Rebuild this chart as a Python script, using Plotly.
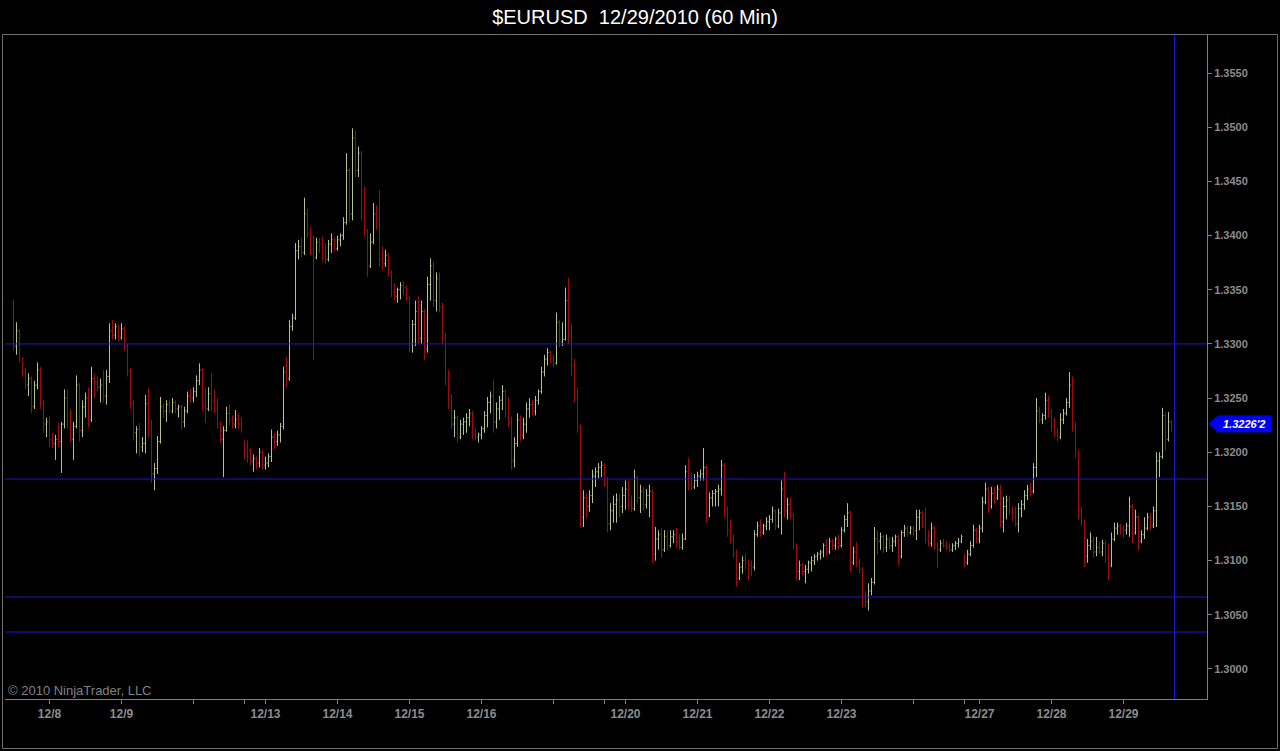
import plotly.graph_objects as go

# ---------------- data (hourly EURUSD bars) ----------------
open_ = [
1.3338, 1.3298, 1.3312, 1.3286, 1.3272, 1.3262, 1.3268, 1.3242, 1.3262, 1.3276,
1.3245, 1.3226, 1.3228, 1.3212, 1.3208, 1.3212, 1.3210, 1.3226, 1.3250, 1.3228,
1.3212, 1.3224, 1.3262, 1.3220, 1.3242, 1.3250, 1.3230, 1.3268, 1.3264, 1.3260,
1.3262, 1.3252, 1.3270, 1.3312, 1.3308, 1.3316, 1.3306, 1.3314, 1.3298, 1.3275,
1.3245, 1.3218, 1.3221, 1.3205, 1.3208, 1.3245, 1.3222, 1.3180, 1.3185, 1.3210,
1.3242, 1.3238, 1.3244, 1.3238, 1.3246, 1.3240, 1.3242, 1.3228, 1.3238, 1.3252,
1.3250, 1.3256, 1.3266, 1.3276, 1.3244, 1.3240, 1.3254, 1.3248, 1.3240, 1.3226,
1.3212, 1.3220, 1.3236, 1.3230, 1.3226, 1.3230, 1.3226, 1.3205, 1.3200, 1.3195,
1.3192, 1.3194, 1.3190, 1.3200, 1.3188, 1.3190, 1.3196, 1.3214, 1.3210, 1.3216,
1.3224, 1.3274, 1.3268, 1.3316, 1.3324, 1.3386, 1.3390, 1.3384, 1.3420, 1.3402,
1.3388, 1.3380, 1.3394, 1.3392, 1.3380, 1.3378, 1.3392, 1.3396, 1.3388, 1.3396,
1.3400, 1.3412, 1.3460, 1.3420, 1.3490, 1.3460, 1.3476, 1.3420, 1.3405, 1.3372,
1.3394, 1.3420, 1.3416, 1.3378, 1.3374, 1.3382, 1.3366, 1.3348, 1.3344, 1.3350,
1.3354, 1.3352, 1.3342, 1.3300, 1.3318, 1.3330, 1.3305, 1.3330, 1.3295, 1.3355,
1.3372, 1.3340, 1.3360, 1.3334, 1.3306, 1.3268, 1.3250, 1.3226, 1.3232, 1.3214,
1.3226, 1.3228, 1.3232, 1.3236, 1.3216, 1.3214, 1.3216, 1.3222, 1.3234, 1.3246,
1.3252, 1.3228, 1.3240, 1.3248, 1.3256, 1.3236, 1.3228, 1.3192, 1.3208, 1.3230,
1.3216, 1.3226, 1.3240, 1.3244, 1.3238, 1.3248, 1.3256, 1.3274, 1.3286, 1.3292,
1.3286, 1.3282, 1.3320, 1.3302, 1.3304, 1.3340, 1.3308, 1.3280, 1.3256, 1.3224,
1.3140, 1.3158, 1.3150, 1.3160, 1.3178, 1.3182, 1.3186, 1.3188, 1.3172, 1.3134,
1.3146, 1.3152, 1.3156, 1.3150, 1.3160, 1.3166, 1.3152, 1.3148, 1.3176, 1.3158,
1.3164, 1.3152, 1.3160, 1.3164, 1.3106, 1.3120, 1.3124, 1.3110, 1.3122, 1.3114,
1.3122, 1.3124, 1.3116, 1.3112, 1.3120, 1.3182, 1.3170, 1.3168, 1.3174, 1.3178,
1.3180, 1.3186, 1.3142, 1.3158, 1.3162, 1.3164, 1.3166, 1.3188, 1.3146, 1.3128,
1.3120, 1.3106, 1.3084, 1.3094, 1.3100, 1.3098, 1.3096, 1.3094, 1.3124, 1.3132,
1.3126, 1.3132, 1.3136, 1.3138, 1.3146, 1.3132, 1.3144, 1.3166, 1.3146, 1.3152,
1.3142, 1.3114, 1.3090, 1.3096, 1.3090, 1.3092, 1.3098, 1.3100, 1.3104, 1.3106,
1.3108, 1.3114, 1.3108, 1.3118, 1.3114, 1.3120, 1.3114, 1.3128, 1.3138, 1.3144,
1.3098, 1.3108, 1.3098, 1.3092, 1.3068, 1.3062, 1.3072, 1.3080, 1.3120, 1.3118,
1.3122, 1.3112, 1.3120, 1.3114, 1.3118, 1.3122, 1.3104, 1.3126, 1.3130, 1.3126,
1.3130, 1.3128, 1.3140, 1.3144, 1.3134, 1.3120, 1.3116, 1.3130, 1.3114, 1.3110,
1.3116, 1.3114, 1.3112, 1.3110, 1.3114, 1.3116, 1.3118, 1.3104, 1.3098, 1.3106,
1.3114, 1.3128, 1.3120, 1.3130, 1.3154, 1.3166, 1.3150, 1.3162, 1.3158, 1.3166,
1.3136, 1.3150, 1.3156, 1.3146, 1.3140, 1.3134, 1.3148, 1.3152, 1.3160, 1.3166,
1.3164, 1.3186, 1.3238, 1.3230, 1.3234, 1.3248, 1.3236, 1.3224, 1.3218, 1.3214,
1.3230, 1.3236, 1.3246, 1.3262, 1.3224, 1.3200, 1.3146, 1.3136, 1.3104, 1.3114,
1.3118, 1.3108, 1.3112, 1.3108, 1.3116, 1.3102, 1.3096, 1.3120, 1.3130, 1.3132,
1.3130, 1.3128, 1.3132, 1.3150, 1.3126, 1.3140, 1.3118, 1.3124, 1.3130, 1.3140,
1.3132, 1.3146, 1.3192, 1.3196, 1.3234, 1.3212, 1.3228,
]

high = [
1.3341, 1.3320, 1.3314, 1.3288, 1.3278, 1.3273, 1.3270, 1.3266, 1.3283, 1.3279,
1.3248, 1.3232, 1.3233, 1.3218, 1.3216, 1.3227, 1.3228, 1.3258, 1.3258, 1.3240,
1.3228, 1.3271, 1.3264, 1.3248, 1.3255, 1.3260, 1.3279, 1.3272, 1.3270, 1.3268,
1.3276, 1.3276, 1.3319, 1.3322, 1.3319, 1.3318, 1.3319, 1.3316, 1.3300, 1.3278,
1.3248, 1.3224, 1.3227, 1.3214, 1.3253, 1.3259, 1.3230, 1.3190, 1.3215, 1.3251,
1.3245, 1.3248, 1.3248, 1.3250, 1.3248, 1.3244, 1.3244, 1.3242, 1.3256, 1.3258,
1.3260, 1.3271, 1.3282, 1.3278, 1.3260, 1.3260, 1.3273, 1.3258, 1.3250, 1.3228,
1.3224, 1.3242, 1.3244, 1.3234, 1.3239, 1.3236, 1.3232, 1.3211, 1.3211, 1.3204,
1.3198, 1.3196, 1.3204, 1.3202, 1.3196, 1.3199, 1.3221, 1.3218, 1.3220, 1.3227,
1.3279, 1.3288, 1.3322, 1.3328, 1.3393, 1.3396, 1.3398, 1.3435, 1.3425, 1.3408,
1.3400, 1.3398, 1.3398, 1.3399, 1.3393, 1.3396, 1.3402, 1.3398, 1.3400, 1.3402,
1.3417, 1.3476, 1.3462, 1.3499, 1.3497, 1.3482, 1.3478, 1.3445, 1.3406, 1.3402,
1.3430, 1.3428, 1.3442, 1.3390, 1.3387, 1.3384, 1.3368, 1.3356, 1.3352, 1.3357,
1.3358, 1.3354, 1.3344, 1.3322, 1.3340, 1.3344, 1.3340, 1.3332, 1.3362, 1.3379,
1.3376, 1.3366, 1.3366, 1.3338, 1.3310, 1.3276, 1.3254, 1.3239, 1.3234, 1.3230,
1.3232, 1.3236, 1.3240, 1.3238, 1.3222, 1.3218, 1.3224, 1.3238, 1.3251, 1.3256,
1.3267, 1.3246, 1.3252, 1.3262, 1.3258, 1.3251, 1.3233, 1.3214, 1.3236, 1.3234,
1.3232, 1.3246, 1.3250, 1.3248, 1.3252, 1.3258, 1.3279, 1.3290, 1.3296, 1.3294,
1.3290, 1.3329, 1.3322, 1.3320, 1.3352, 1.3361, 1.3319, 1.3286, 1.3260, 1.3226,
1.3165, 1.3162, 1.3165, 1.3184, 1.3186, 1.3190, 1.3192, 1.3190, 1.3177, 1.3153,
1.3160, 1.3162, 1.3162, 1.3168, 1.3174, 1.3174, 1.3160, 1.3184, 1.3178, 1.3170,
1.3168, 1.3166, 1.3170, 1.3166, 1.3131, 1.3128, 1.3130, 1.3128, 1.3128, 1.3128,
1.3128, 1.3130, 1.3124, 1.3125, 1.3188, 1.3195, 1.3181, 1.3180, 1.3182, 1.3184,
1.3204, 1.3188, 1.3163, 1.3165, 1.3166, 1.3170, 1.3193, 1.3190, 1.3150, 1.3138,
1.3124, 1.3110, 1.3098, 1.3104, 1.3107, 1.3101, 1.3100, 1.3128, 1.3136, 1.3138,
1.3134, 1.3140, 1.3142, 1.3150, 1.3147, 1.3148, 1.3174, 1.3182, 1.3158, 1.3158,
1.3144, 1.3116, 1.3100, 1.3098, 1.3096, 1.3100, 1.3104, 1.3106, 1.3108, 1.3110,
1.3116, 1.3120, 1.3121, 1.3120, 1.3122, 1.3124, 1.3131, 1.3142, 1.3153, 1.3146,
1.3113, 1.3117, 1.3102, 1.3094, 1.3072, 1.3079, 1.3084, 1.3131, 1.3128, 1.3126,
1.3124, 1.3124, 1.3122, 1.3122, 1.3124, 1.3124, 1.3128, 1.3133, 1.3132, 1.3132,
1.3132, 1.3147, 1.3147, 1.3146, 1.3149, 1.3128, 1.3135, 1.3132, 1.3117, 1.3119,
1.3120, 1.3118, 1.3116, 1.3116, 1.3118, 1.3121, 1.3124, 1.3106, 1.3110, 1.3118,
1.3133, 1.3130, 1.3133, 1.3159, 1.3172, 1.3168, 1.3168, 1.3168, 1.3170, 1.3170,
1.3159, 1.3160, 1.3160, 1.3150, 1.3150, 1.3153, 1.3156, 1.3165, 1.3170, 1.3172,
1.3190, 1.3250, 1.3242, 1.3236, 1.3255, 1.3252, 1.3240, 1.3232, 1.3222, 1.3236,
1.3240, 1.3250, 1.3274, 1.3270, 1.3228, 1.3202, 1.3150, 1.3138, 1.3120, 1.3126,
1.3122, 1.3122, 1.3118, 1.3119, 1.3119, 1.3116, 1.3126, 1.3135, 1.3135, 1.3134,
1.3133, 1.3135, 1.3159, 1.3152, 1.3147, 1.3142, 1.3128, 1.3140, 1.3144, 1.3144,
1.3150, 1.3200, 1.3200, 1.3241, 1.3237, 1.3237, 1.3230,
]

low = [
1.3294, 1.3290, 1.3283, 1.3270, 1.3258, 1.3252, 1.3236, 1.3240, 1.3258, 1.3240,
1.3218, 1.3214, 1.3205, 1.3204, 1.3193, 1.3205, 1.3181, 1.3222, 1.3222, 1.3209,
1.3193, 1.3222, 1.3210, 1.3214, 1.3232, 1.3223, 1.3228, 1.3250, 1.3256, 1.3246,
1.3246, 1.3244, 1.3264, 1.3304, 1.3304, 1.3303, 1.3304, 1.3294, 1.3270, 1.3240,
1.3211, 1.3199, 1.3196, 1.3200, 1.3199, 1.3214, 1.3172, 1.3165, 1.3180, 1.3208,
1.3232, 1.3228, 1.3236, 1.3236, 1.3236, 1.3232, 1.3221, 1.3223, 1.3236, 1.3246,
1.3246, 1.3251, 1.3262, 1.3238, 1.3227, 1.3238, 1.3238, 1.3236, 1.3222, 1.3208,
1.3177, 1.3219, 1.3225, 1.3222, 1.3222, 1.3221, 1.3218, 1.3193, 1.3190, 1.3188,
1.3182, 1.3184, 1.3186, 1.3184, 1.3184, 1.3186, 1.3191, 1.3203, 1.3206, 1.3209,
1.3221, 1.3260, 1.3266, 1.3312, 1.3322, 1.3378, 1.3380, 1.3382, 1.3398, 1.3382,
1.3285, 1.3378, 1.3384, 1.3376, 1.3374, 1.3376, 1.3384, 1.3386, 1.3386, 1.3390,
1.3396, 1.3410, 1.3412, 1.3414, 1.3454, 1.3454, 1.3414, 1.3399, 1.3362, 1.3370,
1.3392, 1.3405, 1.3371, 1.3368, 1.3371, 1.3362, 1.3343, 1.3340, 1.3338, 1.3341,
1.3345, 1.3340, 1.3292, 1.3292, 1.3298, 1.3300, 1.3300, 1.3285, 1.3292, 1.3340,
1.3334, 1.3330, 1.3329, 1.3300, 1.3262, 1.3240, 1.3221, 1.3214, 1.3209, 1.3212,
1.3216, 1.3218, 1.3224, 1.3212, 1.3211, 1.3209, 1.3212, 1.3218, 1.3223, 1.3236,
1.3218, 1.3222, 1.3230, 1.3239, 1.3232, 1.3223, 1.3184, 1.3186, 1.3205, 1.3210,
1.3212, 1.3218, 1.3232, 1.3234, 1.3234, 1.3244, 1.3254, 1.3270, 1.3280, 1.3282,
1.3278, 1.3281, 1.3297, 1.3298, 1.3303, 1.3300, 1.3270, 1.3246, 1.3218, 1.3131,
1.3131, 1.3140, 1.3145, 1.3153, 1.3168, 1.3176, 1.3177, 1.3168, 1.3126, 1.3128,
1.3135, 1.3135, 1.3140, 1.3144, 1.3147, 1.3147, 1.3145, 1.3146, 1.3153, 1.3144,
1.3146, 1.3148, 1.3140, 1.3098, 1.3100, 1.3110, 1.3103, 1.3108, 1.3110, 1.3112,
1.3116, 1.3112, 1.3110, 1.3110, 1.3119, 1.3165, 1.3165, 1.3166, 1.3168, 1.3174,
1.3174, 1.3135, 1.3140, 1.3150, 1.3150, 1.3150, 1.3160, 1.3140, 1.3122, 1.3116,
1.3103, 1.3076, 1.3082, 1.3088, 1.3092, 1.3082, 1.3086, 1.3091, 1.3122, 1.3122,
1.3124, 1.3128, 1.3128, 1.3135, 1.3128, 1.3130, 1.3124, 1.3140, 1.3138, 1.3138,
1.3110, 1.3082, 1.3082, 1.3086, 1.3079, 1.3088, 1.3090, 1.3096, 1.3100, 1.3101,
1.3103, 1.3104, 1.3106, 1.3110, 1.3110, 1.3110, 1.3112, 1.3126, 1.3131, 1.3089,
1.3096, 1.3094, 1.3088, 1.3057, 1.3057, 1.3054, 1.3068, 1.3078, 1.3106, 1.3110,
1.3107, 1.3108, 1.3110, 1.3108, 1.3113, 1.3096, 1.3102, 1.3122, 1.3122, 1.3124,
1.3122, 1.3119, 1.3128, 1.3130, 1.3116, 1.3113, 1.3113, 1.3110, 1.3093, 1.3108,
1.3112, 1.3110, 1.3108, 1.3108, 1.3110, 1.3112, 1.3116, 1.3094, 1.3096, 1.3104,
1.3112, 1.3116, 1.3116, 1.3126, 1.3152, 1.3144, 1.3148, 1.3152, 1.3156, 1.3131,
1.3126, 1.3138, 1.3142, 1.3136, 1.3131, 1.3126, 1.3140, 1.3147, 1.3156, 1.3159,
1.3162, 1.3177, 1.3227, 1.3226, 1.3230, 1.3232, 1.3219, 1.3214, 1.3210, 1.3212,
1.3226, 1.3234, 1.3241, 1.3219, 1.3195, 1.3138, 1.3132, 1.3094, 1.3098, 1.3110,
1.3103, 1.3104, 1.3106, 1.3104, 1.3098, 1.3082, 1.3094, 1.3118, 1.3124, 1.3124,
1.3121, 1.3124, 1.3122, 1.3116, 1.3124, 1.3110, 1.3116, 1.3120, 1.3128, 1.3128,
1.3130, 1.3131, 1.3177, 1.3194, 1.3202, 1.3210, 1.3219,
]

close = [
1.3298, 1.3312, 1.3286, 1.3272, 1.3262, 1.3268, 1.3242, 1.3262, 1.3276, 1.3245,
1.3226, 1.3228, 1.3212, 1.3208, 1.3212, 1.3210, 1.3226, 1.3250, 1.3228, 1.3212,
1.3224, 1.3262, 1.3220, 1.3242, 1.3250, 1.3230, 1.3268, 1.3264, 1.3260, 1.3262,
1.3252, 1.3270, 1.3312, 1.3308, 1.3316, 1.3306, 1.3314, 1.3298, 1.3275, 1.3245,
1.3218, 1.3221, 1.3205, 1.3208, 1.3245, 1.3222, 1.3180, 1.3185, 1.3210, 1.3242,
1.3238, 1.3244, 1.3238, 1.3246, 1.3240, 1.3242, 1.3228, 1.3238, 1.3252, 1.3250,
1.3256, 1.3266, 1.3276, 1.3244, 1.3240, 1.3254, 1.3248, 1.3240, 1.3226, 1.3212,
1.3220, 1.3236, 1.3230, 1.3226, 1.3230, 1.3226, 1.3222, 1.3200, 1.3195, 1.3192,
1.3194, 1.3190, 1.3200, 1.3188, 1.3190, 1.3196, 1.3214, 1.3210, 1.3216, 1.3224,
1.3274, 1.3268, 1.3316, 1.3324, 1.3386, 1.3390, 1.3384, 1.3420, 1.3402, 1.3388,
1.3380, 1.3394, 1.3392, 1.3380, 1.3378, 1.3392, 1.3396, 1.3388, 1.3396, 1.3400,
1.3412, 1.3460, 1.3420, 1.3490, 1.3460, 1.3476, 1.3420, 1.3405, 1.3372, 1.3394,
1.3420, 1.3416, 1.3378, 1.3374, 1.3382, 1.3366, 1.3348, 1.3344, 1.3350, 1.3354,
1.3352, 1.3342, 1.3300, 1.3318, 1.3330, 1.3305, 1.3330, 1.3295, 1.3355, 1.3372,
1.3340, 1.3360, 1.3334, 1.3306, 1.3268, 1.3250, 1.3226, 1.3232, 1.3214, 1.3226,
1.3228, 1.3232, 1.3236, 1.3216, 1.3214, 1.3216, 1.3222, 1.3234, 1.3246, 1.3252,
1.3228, 1.3240, 1.3248, 1.3256, 1.3236, 1.3228, 1.3192, 1.3208, 1.3230, 1.3216,
1.3226, 1.3240, 1.3244, 1.3238, 1.3248, 1.3256, 1.3274, 1.3286, 1.3292, 1.3286,
1.3282, 1.3320, 1.3302, 1.3304, 1.3340, 1.3308, 1.3280, 1.3256, 1.3224, 1.3140,
1.3158, 1.3150, 1.3160, 1.3178, 1.3182, 1.3186, 1.3188, 1.3172, 1.3134, 1.3146,
1.3152, 1.3156, 1.3150, 1.3160, 1.3166, 1.3152, 1.3148, 1.3176, 1.3158, 1.3164,
1.3152, 1.3160, 1.3164, 1.3106, 1.3120, 1.3124, 1.3110, 1.3122, 1.3114, 1.3122,
1.3124, 1.3116, 1.3112, 1.3120, 1.3182, 1.3170, 1.3168, 1.3174, 1.3178, 1.3180,
1.3186, 1.3142, 1.3158, 1.3162, 1.3164, 1.3166, 1.3188, 1.3146, 1.3128, 1.3120,
1.3106, 1.3084, 1.3094, 1.3100, 1.3098, 1.3096, 1.3094, 1.3124, 1.3132, 1.3126,
1.3132, 1.3136, 1.3138, 1.3146, 1.3132, 1.3144, 1.3166, 1.3146, 1.3152, 1.3142,
1.3114, 1.3090, 1.3096, 1.3090, 1.3092, 1.3098, 1.3100, 1.3104, 1.3106, 1.3108,
1.3114, 1.3108, 1.3118, 1.3114, 1.3120, 1.3114, 1.3128, 1.3138, 1.3144, 1.3098,
1.3108, 1.3098, 1.3092, 1.3068, 1.3062, 1.3072, 1.3080, 1.3120, 1.3118, 1.3122,
1.3112, 1.3120, 1.3114, 1.3118, 1.3122, 1.3104, 1.3126, 1.3130, 1.3126, 1.3130,
1.3128, 1.3140, 1.3144, 1.3134, 1.3120, 1.3116, 1.3130, 1.3114, 1.3110, 1.3116,
1.3114, 1.3112, 1.3110, 1.3114, 1.3116, 1.3118, 1.3122, 1.3098, 1.3106, 1.3114,
1.3128, 1.3120, 1.3130, 1.3154, 1.3166, 1.3150, 1.3162, 1.3158, 1.3166, 1.3136,
1.3150, 1.3156, 1.3146, 1.3140, 1.3134, 1.3148, 1.3152, 1.3160, 1.3166, 1.3164,
1.3186, 1.3238, 1.3230, 1.3234, 1.3248, 1.3236, 1.3224, 1.3218, 1.3214, 1.3230,
1.3236, 1.3246, 1.3262, 1.3224, 1.3200, 1.3146, 1.3136, 1.3104, 1.3114, 1.3118,
1.3108, 1.3112, 1.3108, 1.3116, 1.3102, 1.3096, 1.3120, 1.3130, 1.3132, 1.3130,
1.3128, 1.3132, 1.3150, 1.3126, 1.3140, 1.3118, 1.3124, 1.3130, 1.3140, 1.3132,
1.3146, 1.3192, 1.3196, 1.3234, 1.3212, 1.3228, 1.32262,
]

# x-axis day markers (bar index of each session/day boundary)
day_tick_index = [12, 36, 60, 77, 84, 108, 132, 156, 180, 197, 204, 228, 252, 276, 300, 317, 322, 346, 370]
day_tick_label = ["12/8", "12/9", "", "", "12/13", "12/14", "12/15", "12/16", "", "",
                  "12/20", "12/21", "12/22", "12/23", "", "", "12/27", "12/28", "12/29"]

# y-axis price ticks
price_ticks = [1.3000, 1.3050, 1.3100, 1.3150, 1.3200, 1.3250, 1.3300, 1.3350, 1.3400, 1.3450, 1.3500, 1.3550]
price_tick_text = ["1.3000", "1.3050", "1.3100", "1.3150", "1.3200", "1.3250",
                   "1.3300", "1.3350", "1.3400", "1.3450", "1.3500", "1.3550"]

# drawn horizontal levels and the vertical time marker
level_prices = [1.3300, 1.31753, 1.30664, 1.30341]
marker_bar = 387
last_price_text = "1.3226'2"

# ---------------- figure ----------------
bar_index = list(range(len(close)))

UP = "#b3c394"
DOWN = "#a00c0c"
GRID = "#7f7f7f"
LEVEL = "#1a1ad2"
LABEL = "#8c8c8c"

fig = go.Figure()
fig.add_trace(go.Ohlc(
    x=bar_index, open=open_, high=high, low=low, close=close,
    increasing=dict(line=dict(color=UP, width=1)),
    decreasing=dict(line=dict(color=DOWN, width=1)),
    tickwidth=0.34, hoverinfo="skip", showlegend=False,
))

W, H = 1280, 751
L_PX, R_PX, T_PX, B_PX = 5, 1207, 35, 699
plot_w = R_PX - L_PX
plot_h = B_PX - T_PX
x_left = -8.5 / 3.0
x_right = x_left + plot_w / 3.0
y_bottom, y_top = 1.29723, 1.35851


def px_to_paper_x(px):
    return (px - L_PX) / plot_w


def px_to_paper_y(py):
    return (B_PX - py) / plot_h


shapes = []
for lv in level_prices:
    shapes.append(dict(type="line", xref="paper", yref="y", x0=0, x1=1, y0=lv, y1=lv,
                       line=dict(color=LEVEL, width=1), layer="above"))
shapes.append(dict(type="line", xref="x", yref="paper", x0=marker_bar, x1=marker_bar, y0=0, y1=1,
                   line=dict(color=LEVEL, width=1), layer="above"))
# outer frame of the chart panel
shapes.append(dict(type="rect", xref="paper", yref="paper",
                   x0=px_to_paper_x(2.5), x1=px_to_paper_x(1277.5),
                   y0=px_to_paper_y(748.5), y1=px_to_paper_y(34.5),
                   line=dict(color="#6e6e6e", width=1), layer="below"))

# last price tag
last = close[-1]
half = (y_top - y_bottom) / plot_h * 8
tip = px_to_paper_x(1209)
body = px_to_paper_x(1218)
right = px_to_paper_x(1271)
shapes.append(dict(type="path", xref="paper", yref="y",
                   path=f"M {tip},{last} L {body},{last + half} L {right},{last + half} "
                        f"L {right},{last - half} L {body},{last - half} Z",
                   fillcolor="#0000f0", line=dict(color="#0000f0", width=1), layer="above"))

annotations = [
    dict(xref="paper", yref="y", x=px_to_paper_x(1244), y=last, text=f"<b><i>{last_price_text}</i></b>",
         showarrow=False, font=dict(color="white", size=11, family="Liberation Sans, Arial"),
         xanchor="center", yanchor="middle"),
    dict(xref="paper", yref="paper", x=px_to_paper_x(6), y=0, yshift=-1, text="© 2010 NinjaTrader, LLC",
         showarrow=False, font=dict(color="#808080", size=13, family="Liberation Sans, Arial"),
         xanchor="left", yanchor="bottom"),
]

fig.update_layout(
    width=W, height=H,
    paper_bgcolor="black", plot_bgcolor="black",
    margin=dict(l=L_PX, r=W - R_PX, t=T_PX, b=H - B_PX, pad=0),
    title=dict(text="$EURUSD\u00a0 12/29/2010 (60 Min)", x=635 / W, xref="container", xanchor="center",
               y=1 - 17 / H, yref="container", yanchor="middle",
               font=dict(color="white", size=20, family="Liberation Sans, Arial")),
    shapes=shapes, annotations=annotations,
    showlegend=False, hovermode=False,
)
fig.update_xaxes(
    range=[x_left, x_right], rangeslider_visible=False, showgrid=False, zeroline=False,
    tickmode="array", tickvals=day_tick_index, ticktext=[f"<b>{t}</b>" if t else "" for t in day_tick_label],
    ticks="outside", ticklen=4, tickcolor=GRID, showline=True, linecolor=GRID, linewidth=1,
    tickfont=dict(color=LABEL, size=12, family="Liberation Sans Narrow, Liberation Sans, Arial"),
)
fig.update_yaxes(
    range=[y_bottom, y_top], side="right", showgrid=False, zeroline=False,
    tickmode="array", tickvals=price_ticks, ticktext=[f"<b>{t}</b>" for t in price_tick_text],
    ticks="outside", ticklen=4, tickcolor=GRID, showline=True, linecolor=GRID, linewidth=1,
    tickfont=dict(color=LABEL, size=11, family="Liberation Sans, Arial"),
)

fig.write_html("out.html", config={"displayModeBar": False},
               post_script="document.body.style.margin='0';document.body.style.overflow='hidden';")
